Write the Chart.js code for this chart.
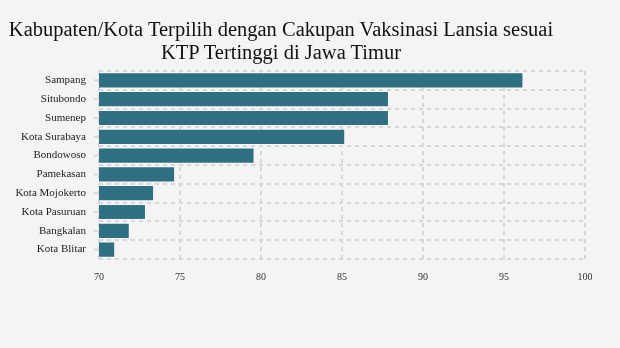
<!DOCTYPE html>
<html>
<head>
<meta charset="utf-8">
<script src="https://cdn.jsdelivr.net/npm/chart.js@4"></script>
<style>
  html, body { margin: 0; padding: 0; background: #f4f4f4; }
  #wrap { position: relative; width: 620px; height: 348px; }
  #title {
    position: absolute; left: 0; top: 18px; width: 562px;
    text-align: center; font-family: "Liberation Serif", serif;
    font-size: 20.5px; line-height: 23px; color: #111;
  }
</style>
</head>
<body>
<div id="wrap">
  <div id="title">Kabupaten/Kota Terpilih dengan Cakupan Vaksinasi Lansia sesuai<br>KTP Tertinggi di Jawa Timur</div>
  <canvas id="chart" width="620" height="348"></canvas>
</div>
<script>
const regions = ['Sampang', 'Situbondo', 'Sumenep', 'Kota Surabaya', 'Bondowoso',
                 'Pamekasan', 'Kota Mojokerto', 'Kota Pasuruan', 'Bangkalan', 'Kota Blitar'];
const coverage = [96.2, 87.9, 87.9, 85.2, 79.6, 74.7, 73.4, 72.9, 71.9, 71.0];
const xTicks = [70, 75, 80, 85, 90, 95, 100];

const gridColor = '#d6d6d6';

// small tick marks on the left edge, one per category
const categoryTicks = {
    id: 'categoryTicks',
    afterDatasetsDraw(chart) {
        const { ctx, scales: { y }, chartArea } = chart;
        ctx.save();
        ctx.strokeStyle = gridColor;
        ctx.lineWidth = 2;
        regions.forEach((r, i) => {
            const py = y.getPixelForValue(i);
            ctx.beginPath();
            ctx.moveTo(chartArea.left - 5, py);
            ctx.lineTo(chartArea.left - 1, py);
            ctx.stroke();
        });
        ctx.restore();
    }
};

new Chart(document.getElementById('chart'), {
    type: 'bar',
    data: {
        labels: regions,
        datasets: [{
            data: coverage,
            backgroundColor: '#2f6f82',
            borderColor: 'rgba(255,255,255,0.55)',
            borderWidth: 1,
            borderSkipped: false,
            barPercentage: 0.86,
            categoryPercentage: 1
        }]
    },
    options: {
        indexAxis: 'y',
        responsive: false,
        animation: false,
        layout: { padding: { top: 71, right: 35, bottom: 60, left: 0 } },
        plugins: {
            legend: { display: false },
            title: { display: false },
            tooltip: { enabled: false }
        },
        scales: {
            x: {
                min: 70,
                max: 100,
                afterBuildTicks: scale => { scale.ticks = xTicks.map(v => ({ value: v })); },
                afterFit: scale => { scale.height = 29; },
                grid: { color: gridColor, lineWidth: 2, drawTicks: false },
                border: { display: false, dash: [4, 4] },
                ticks: {
                    padding: 12,
                    color: '#333',
                    font: { family: 'Liberation Serif', size: 10 }
                }
            },
            y: {
                afterFit: scale => { scale.width = 99; },
                grid: { color: gridColor, lineWidth: 2, drawTicks: false, offset: true },
                border: { display: false, dash: [4, 4] },
                ticks: {
                    padding: 13,
                    color: '#222',
                    font: { family: 'Liberation Serif', size: 11 }
                }
            }
        }
    },
    plugins: [categoryTicks]
});
</script>
</body>
</html>
